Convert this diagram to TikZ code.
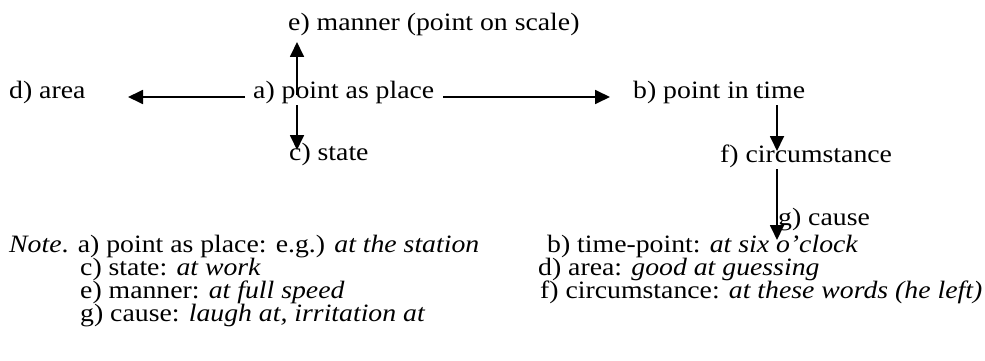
\documentclass[tikz,border=0pt]{standalone}
\usepackage{fontspec}
\setmainfont[FakeStretch=1.11]{Liberation Serif}
\usetikzlibrary{arrows.meta}
\begin{document}
\begin{tikzpicture}[x=1pt,y=-1pt,
  lbl/.style={inner sep=0pt,anchor=base west,font=\fontsize{25}{27}\selectfont},
  arr/.style={line width=1.8pt,-{Triangle[length=15pt,width=14pt]}}]
\useasboundingbox (0,0) rectangle (985,361);
\node[lbl] (d) at (9,99) {d) area};
\node[lbl] (a) at (253,98) {a) point as place};
\node[lbl] (b) at (633,98) {b) point in time};
\node[lbl] (e) at (288,31) {e) manner (point on scale)};
\node[lbl] (c) at (289,160) {c) state};
\node[lbl] (f) at (720,162) {f) circumstance};
\node[lbl] (g) at (778,225) {g) cause};
\draw[arr] ([shift={(-8,-1)}]a.base west) -- ([shift={(119,-2)}]d.base west);
\draw[arr] ([shift={(190,-1)}]a.base west) -- ([shift={(-23,-1)}]b.base west);
\draw[arr] ([shift={(44,-3)}]a.base west) -- ([shift={(9,11)}]e.base west);
\draw[arr] ([shift={(44,7)}]a.base west) -- ([shift={(8,-10)}]c.base west);
\draw[arr] ([shift={(144,7)}]b.base west) -- ([shift={(57,-11)}]f.base west);
\draw[arr] ([shift={(57,7)}]f.base west) -- ([shift={(-1,15)}]g.base west);
\node[lbl] (n1) at (9,252) {\textit{Note}. a) point as place: e.g.) \textit{at the station}};
\node[lbl] (n2) at (80,275) {c) state: \textit{at work}};
\node[lbl] (n3) at (80,298) {e) manner: \textit{at full speed}};
\node[lbl] (n4) at (80,321) {g) cause: \textit{laugh at, irritation at}};
\node[lbl] (n5) at (547,252) {b) time-point: \textit{at six o’clock}};
\node[lbl] (n6) at (538,275) {d) area: \textit{good at guessing}};
\node[lbl] (n7) at (540,298) {f) circumstance: \textit{at these words (he left)}};
\end{tikzpicture}
\end{document}
